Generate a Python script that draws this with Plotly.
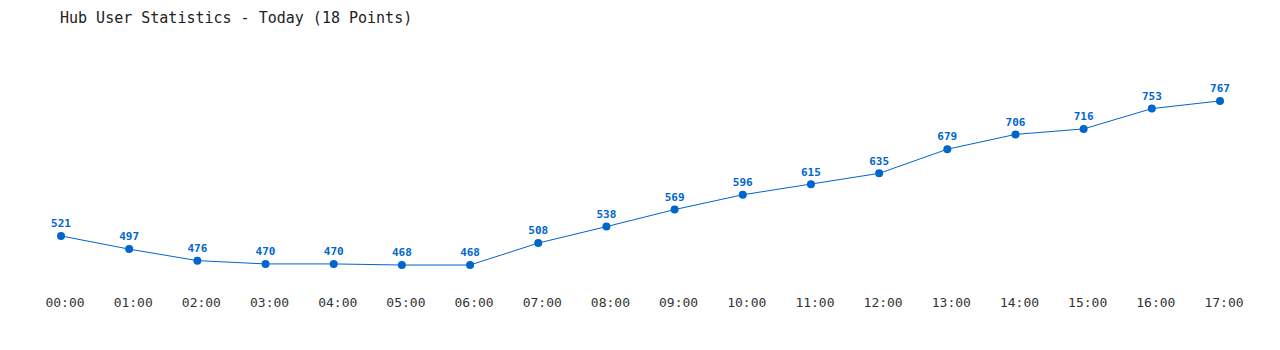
import plotly.graph_objects as go

hours = ["00:00", "01:00", "02:00", "03:00", "04:00", "05:00", "06:00", "07:00", "08:00",
         "09:00", "10:00", "11:00", "12:00", "13:00", "14:00", "15:00", "16:00", "17:00"]
users = [521, 497, 476, 470, 470, 468, 468, 508, 538, 569, 596, 615, 635, 679, 706, 716, 753, 767]

idx = list(range(len(hours)))
mono = "DejaVu Sans Mono"
blue = "#0066cc"

fig = go.Figure()
fig.add_trace(go.Scatter(
    x=idx, y=users, mode="lines+markers+text",
    line=dict(color=blue, width=1),
    marker=dict(color=blue, size=8),
    text=[f"<b>{v}</b>" for v in users],
    textposition="top center",
    textfont=dict(family=mono, size=11, color=blue),
    cliponaxis=False,
    hoverinfo="skip",
))

fig.update_layout(
    width=1280, height=350,
    margin=dict(l=0, r=0, t=40, b=60),
    paper_bgcolor="white", plot_bgcolor="white",
    showlegend=False,
    title=dict(text="Hub User Statistics - Today (18 Points)",
               font=dict(family=mono, size=15, color="#222"),
               x=60/1280, xanchor="left", y=1-18/350, yanchor="middle"),
    xaxis=dict(range=[-0.895, 17.88], tickmode="array", tickvals=idx, ticktext=hours,
               showgrid=False, zeroline=False, showline=False, ticks="",
               ticklabelstandoff=3, ticklabelshift=4,
               tickfont=dict(family=mono, size=13, color="#333")),
    yaxis=dict(range=[422.5, 878], visible=False, showgrid=False, zeroline=False),
)

fig.write_html("out.html")
